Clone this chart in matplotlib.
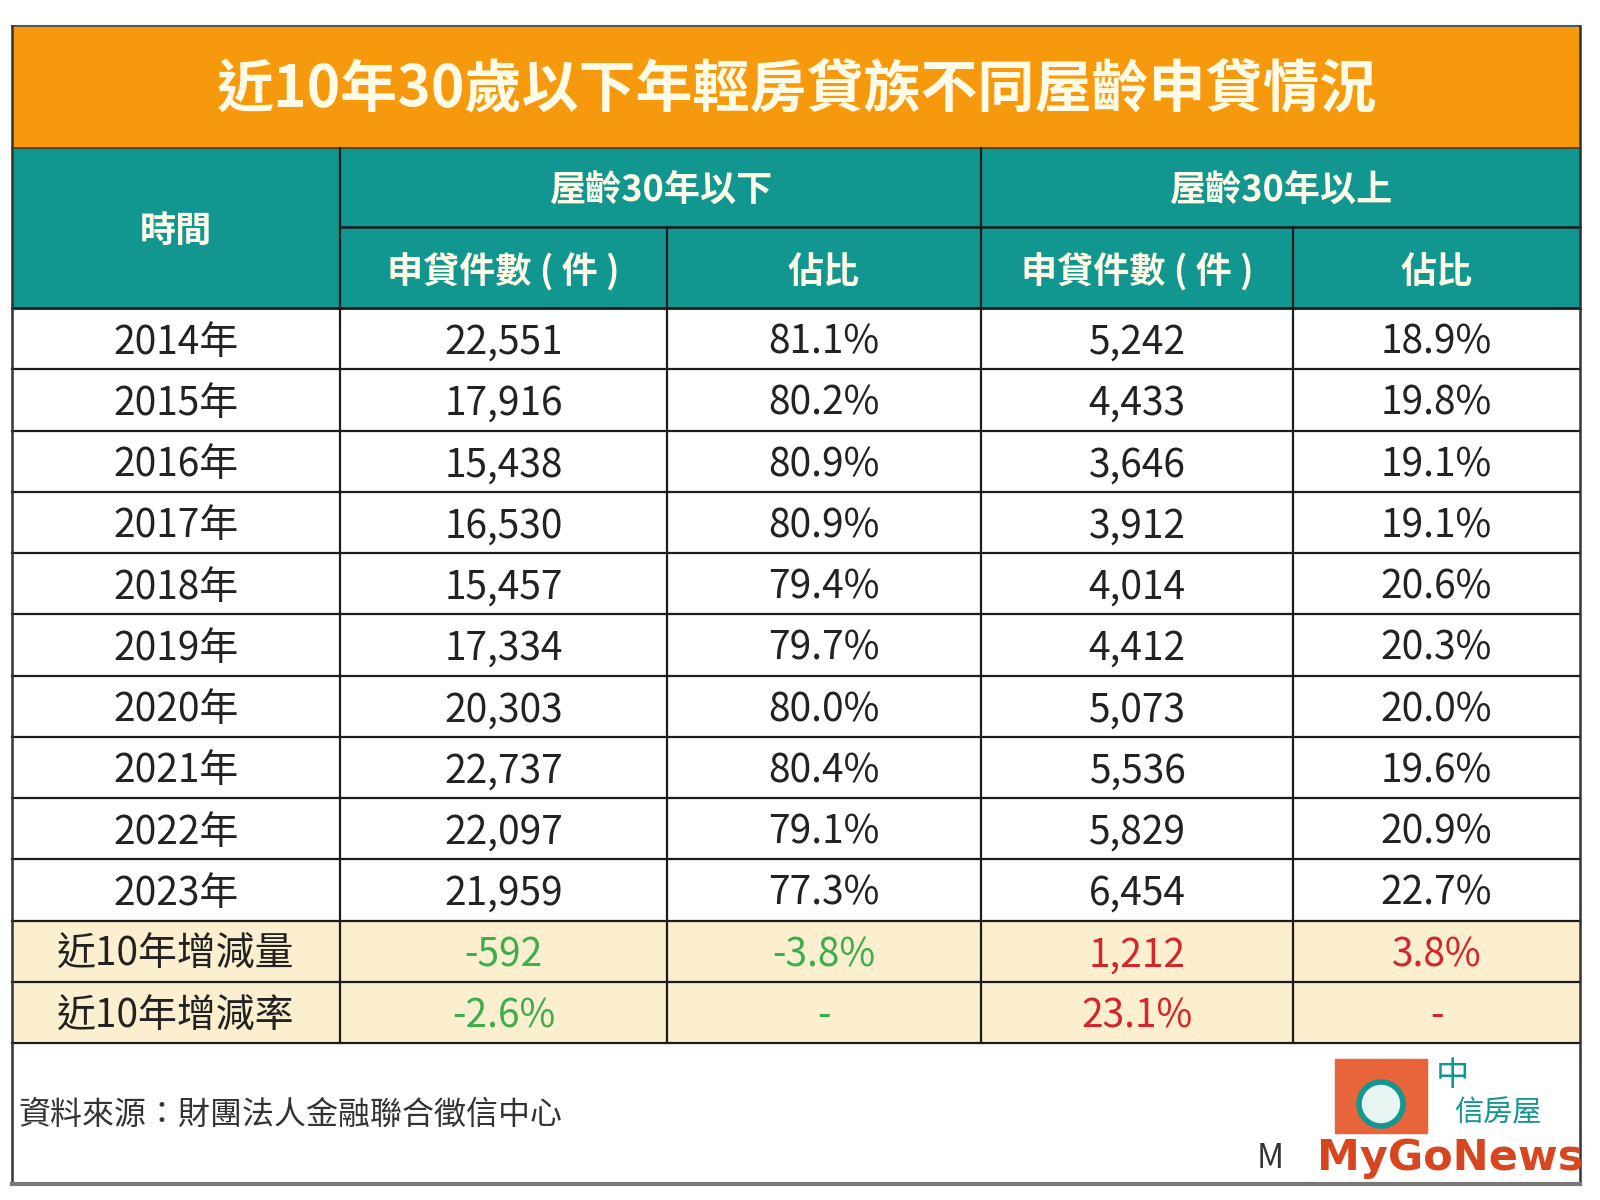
import matplotlib.pyplot as plt
from matplotlib.patches import Rectangle, Circle

plt.rcParams['font.family'] = ['Noto Sans CJK TC', 'DejaVu Sans']

# --- Data ---
title = "近10年30歲以下年輕房貸族不同屋齡申貸情況"
group_labels = ["屋齡30年以下", "屋齡30年以上"]
sub_labels = ["申貸件數 ( 件 )", "佔比", "申貸件數 ( 件 )", "佔比"]
years = ["2014年", "2015年", "2016年", "2017年", "2018年",
         "2019年", "2020年", "2021年", "2022年", "2023年"]
below_count = [22551, 17916, 15438, 16530, 15457, 17334, 20303, 22737, 22097, 21959]
below_share = [81.1, 80.2, 80.9, 80.9, 79.4, 79.7, 80.0, 80.4, 79.1, 77.3]
above_count = [5242, 4433, 3646, 3912, 4014, 4412, 5073, 5536, 5829, 6454]
above_share = [18.9, 19.8, 19.1, 19.1, 20.6, 20.3, 20.0, 19.6, 20.9, 22.7]
summary_labels = ["近10年增減量", "近10年增減率"]
summary_vals = [["-592", "-3.8%", "1,212", "3.8%"],
                ["-2.6%", "-", "23.1%", "-"]]
source = "資料來源：財團法人金融聯合徵信中心"

# --- Style / layout (pixel coordinates) ---
ORANGE = "#F7990D"
TEAL = "#129690"
CREAM = "#FCEFCF"
HEAD_TXT = "#FFFBE6"
GREEN = "#3DAE4A"
RED = "#D3262B"
LINE = "#1c1c1c"

col_x = [12, 340, 667, 981, 1293, 1580]
top, title_bot, head_mid, head_bot = 26, 148, 227, 308
row_h = 61.25
bottom = 1184

fig = plt.figure(figsize=(16, 12), dpi=100)
ax = fig.add_axes([0, 0, 1, 1])
ax.set_xlim(0, 1600)
ax.set_ylim(1200, 0)
ax.axis("off")

def centers(i):
    return (col_x[i] + col_x[i + 1]) / 2

# title band
ax.add_patch(Rectangle((col_x[0], top), col_x[-1] - col_x[0], title_bot - top, color=ORANGE))
ax.text((col_x[0] + col_x[-1]) / 2, (top + title_bot) / 2 + 3, title, ha="center", va="center",
        fontsize=41, fontweight="bold", color=HEAD_TXT)

# header band
ax.add_patch(Rectangle((col_x[0], title_bot), col_x[-1] - col_x[0], head_bot - title_bot, color=TEAL))
ax.text(centers(0), (title_bot + head_bot) / 2 + 3, "時間", ha="center", va="center",
        fontsize=26, fontweight="bold", color=HEAD_TXT)
for g, lab in enumerate(group_labels):
    cx = (col_x[1 + 2 * g] + col_x[3 + 2 * g]) / 2
    ax.text(cx, (title_bot + head_mid) / 2 + 3, lab, ha="center", va="center",
            fontsize=26, fontweight="bold", color=HEAD_TXT)
for j, lab in enumerate(sub_labels):
    ax.text(centers(j + 1), (head_mid + head_bot) / 2 + 5, lab, ha="center", va="center",
            fontsize=26, fontweight="bold", color=HEAD_TXT)

# body rows
n = len(years)
for r in range(n):
    cy = head_bot + (r + 0.5) * row_h + 4
    vals = [years[r], f"{below_count[r]:,}", f"{below_share[r]:.1f}%",
            f"{above_count[r]:,}", f"{above_share[r]:.1f}%"]
    for j, v in enumerate(vals):
        ax.text(centers(j), cy, v, ha="center", va="center", fontsize=28, color="#222222")

# summary rows
sum_top = head_bot + n * row_h
ax.add_patch(Rectangle((col_x[0], sum_top), col_x[-1] - col_x[0], 2 * row_h, color=CREAM))
sum_colors = [GREEN, GREEN, RED, RED]
for r, lab in enumerate(summary_labels):
    cy = sum_top + (r + 0.5) * row_h + 4
    ax.text(centers(0), cy, lab, ha="center", va="center", fontsize=28, color="#222222")
    for j, v in enumerate(summary_vals[r]):
        ax.text(centers(j + 1), cy, v, ha="center", va="center", fontsize=28, color=sum_colors[j])

table_bot = sum_top + 2 * row_h

# grid lines
for k in range(1, n + 3):
    y = head_bot + k * row_h
    ax.plot([col_x[0], col_x[-1]], [y, y], color=LINE, lw=1.6)
ax.plot([col_x[0], col_x[-1]], [head_bot, head_bot], color=LINE, lw=2)
ax.plot([col_x[0], col_x[-1]], [title_bot, title_bot], color="#5a3a10", lw=1.2)
ax.plot([col_x[1], col_x[-1]], [head_mid, head_mid], color=LINE, lw=1.8)
for k in (1, 3):
    ax.plot([col_x[k], col_x[k]], [title_bot, table_bot], color=LINE, lw=1.6)
for k in (2, 4):
    ax.plot([col_x[k], col_x[k]], [head_mid, table_bot], color=LINE, lw=1.6)

# outer frame
ax.plot([col_x[0], col_x[-1]], [top, top], color="#555555", lw=1.5)
ax.plot([col_x[0], col_x[0]], [top, bottom], color="#333333", lw=1.8)
ax.plot([col_x[-1], col_x[-1]], [top, bottom], color="#333333", lw=1.8)
ax.plot([col_x[0], col_x[-1]], [bottom, bottom], color="#777777", lw=3)

# source note
ax.text(18, 1115, source, ha="left", va="center", fontsize=23, color="#333333")

# logos (approximation)
ax.add_patch(Rectangle((1335, 1059), 92, 74, color="#E8643A"))
ax.add_patch(Circle((1381, 1104), 22, facecolor="#E8F4F2", edgecolor=TEAL, lw=4))
ax.text(1452, 1076, "中", ha="center", va="center", fontsize=24, color=TEAL)
ax.text(1498, 1113, "信房屋", ha="center", va="center", fontsize=21, color=TEAL)
ax.text(1450, 1158, "MyGoNews", ha="center", va="center", fontsize=31,
        fontweight="bold", color="#D8461F", family=["DejaVu Sans"])
ax.text(1270, 1158, "M", ha="center", va="center", fontsize=24, color="#333333")

fig.savefig("out.png", dpi=100)
